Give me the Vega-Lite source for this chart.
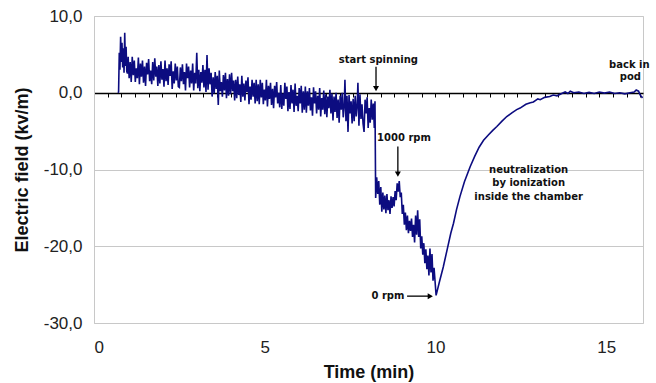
{
  "$schema": "https://vega.github.io/schema/vega-lite/v6.json",
  "width": 549,
  "height": 307,
  "autosize": "none",
  "padding": {"left": 94, "top": 16, "right": 13, "bottom": 60},
  "background": "white",
  "config": {"view": {"stroke": "#c8c8c8", "strokeWidth": 1}},
  "datasets": {
    "field": [
      {"t":0.70,"v":0},{"t":0.72,"v":0.1},{"t":0.74,"v":5.2},{"t":0.76,"v":3.0},{"t":0.78,"v":7.3},{"t":0.80,"v":4.0},{"t":0.82,"v":6.5},{"t":0.84,"v":3.3},{"t":0.86,"v":5.8},{"t":0.88,"v":2.6},{"t":0.90,"v":7.8},{"t":0.92,"v":3.5},{"t":0.94,"v":6.0},{"t":0.96,"v":2.8},{"t":0.98,"v":2.5},
      {"t":1.00,"v":4.7},{"t":1.03,"v":1.9},{"t":1.06,"v":4.0},{"t":1.09,"v":1.4},{"t":1.12,"v":4.7},{"t":1.15,"v":2.3},{"t":1.18,"v":4.2},{"t":1.21,"v":1.4},{"t":1.24,"v":3.2},{"t":1.27,"v":1.9},
      {"t":1.30,"v":4.6},{"t":1.33,"v":1.1},{"t":1.36,"v":3.8},{"t":1.39,"v":2.1},{"t":1.42,"v":4.2},{"t":1.45,"v":1.3},{"t":1.48,"v":3.4},{"t":1.51,"v":0.9},{"t":1.54,"v":3.9},{"t":1.57,"v":2.4},
      {"t":1.60,"v":4.4},{"t":1.63,"v":1.5},{"t":1.66,"v":2.9},{"t":1.69,"v":1.1},{"t":1.72,"v":4.0},{"t":1.75,"v":1.6},{"t":1.78,"v":4.5},{"t":1.81,"v":2.1},{"t":1.84,"v":3.4},{"t":1.87,"v":0.9},
      {"t":1.90,"v":3.6},{"t":1.93,"v":1.2},{"t":1.96,"v":4.1},{"t":1.99,"v":1.7},{"t":2.02,"v":3.1},{"t":2.05,"v":0.8},{"t":2.08,"v":4.2},{"t":2.11,"v":1.5},{"t":2.14,"v":3.2},{"t":2.17,"v":1.0},
      {"t":2.20,"v":3.7},{"t":2.23,"v":2.2},{"t":2.26,"v":4.1},{"t":2.29,"v":0.5},{"t":2.32,"v":2.8},{"t":2.35,"v":1.2},{"t":2.38,"v":3.8},{"t":2.41,"v":1.6},{"t":2.44,"v":3.4},{"t":2.47,"v":0.8},
      {"t":2.50,"v":0.7},{"t":2.53,"v":3.3},{"t":2.56,"v":1.5},{"t":2.59,"v":3.7},{"t":2.62,"v":1.1},{"t":2.65,"v":2.7},{"t":2.68,"v":0.3},{"t":2.71,"v":3.8},{"t":2.74,"v":1.9},{"t":2.77,"v":3.4},
      {"t":2.80,"v":0.7},{"t":2.83,"v":2.9},{"t":2.86,"v":1.2},{"t":2.89,"v":3.8},{"t":2.92,"v":0.3},{"t":2.95,"v":2.6},{"t":2.98,"v":1.2},{"t":3.01,"v":5.2},{"t":3.04,"v":0.6},{"t":3.07,"v":3.0},
      {"t":3.10,"v":0.2},{"t":3.13,"v":2.7},{"t":3.16,"v":1.3},{"t":3.19,"v":3.6},{"t":3.22,"v":0.7},{"t":3.25,"v":3.0},{"t":3.28,"v":0.1},{"t":3.31,"v":4.9},{"t":3.34,"v":0.4},{"t":3.37,"v":3.2},
      {"t":3.40,"v":1.1},{"t":3.43,"v":2.6},{"t":3.46,"v":-0.5},{"t":3.49,"v":2.0},{"t":3.52,"v":-0.1},{"t":3.55,"v":2.7},{"t":3.58,"v":0.5},{"t":3.61,"v":2.2},{"t":3.64,"v":-1.6},{"t":3.67,"v":2.9},
      {"t":3.70,"v":0.2},{"t":3.73,"v":1.4},{"t":3.76,"v":-0.5},{"t":3.79,"v":2.3},{"t":3.82,"v":0.3},{"t":3.85,"v":2.6},{"t":3.88,"v":-0.7},{"t":3.91,"v":1.8},{"t":3.94,"v":-0.4},{"t":3.97,"v":2.4},
      {"t":4.00,"v":-0.2},{"t":4.03,"v":2.6},{"t":4.06,"v":0.2},{"t":4.09,"v":1.6},{"t":4.12,"v":-1.0},{"t":4.15,"v":1.7},{"t":4.18,"v":-0.7},{"t":4.21,"v":2.1},{"t":4.24,"v":-0.3},{"t":4.27,"v":1.1},
      {"t":4.30,"v":-1.2},{"t":4.33,"v":2.2},{"t":4.36,"v":-0.5},{"t":4.39,"v":1.2},{"t":4.42,"v":-1.0},{"t":4.45,"v":1.6},{"t":4.48,"v":0.1},{"t":4.51,"v":2.0},{"t":4.54,"v":-1.5},{"t":4.57,"v":0.8},
      {"t":4.60,"v":-0.9},{"t":4.63,"v":1.7},{"t":4.66,"v":-0.5},{"t":4.69,"v":1.3},{"t":4.72,"v":-1.4},{"t":4.75,"v":1.7},{"t":4.78,"v":-1.1},{"t":4.81,"v":1.1},{"t":4.84,"v":-1.5},{"t":4.87,"v":1.7},
      {"t":4.90,"v":-0.6},{"t":4.93,"v":1.3},{"t":4.96,"v":-1.5},{"t":4.99,"v":0.4},{"t":5.02,"v":-1.0},{"t":5.05,"v":1.7},{"t":5.08,"v":-1.8},{"t":5.11,"v":0.9},{"t":5.14,"v":-0.8},{"t":5.17,"v":1.3},
      {"t":5.20,"v":-1.6},{"t":5.23,"v":0.5},{"t":5.26,"v":-2.0},{"t":5.29,"v":0.9},{"t":5.32,"v":-0.6},{"t":5.35,"v":1.4},{"t":5.38,"v":-1.4},{"t":5.41,"v":0.0},{"t":5.44,"v":-1.9},{"t":5.47,"v":1.0},
      {"t":5.50,"v":-2.1},{"t":5.53,"v":-0.1},{"t":5.56,"v":-1.7},{"t":5.59,"v":1.3},{"t":5.62,"v":-0.8},{"t":5.65,"v":0.8},{"t":5.68,"v":-2.4},{"t":5.71,"v":0.1},{"t":5.74,"v":-2.1},{"t":5.77,"v":1.0},
      {"t":5.80,"v":-1.4},{"t":5.83,"v":0.4},{"t":5.86,"v":-2.5},{"t":5.89,"v":1.2},{"t":5.92,"v":-1.7},{"t":5.95,"v":-0.4},{"t":5.98,"v":-2.4},{"t":6.01,"v":0.6},{"t":6.04,"v":-1.4},{"t":6.07,"v":0.9},
      {"t":6.10,"v":-2.6},{"t":6.13,"v":0.2},{"t":6.16,"v":-2.2},{"t":6.19,"v":0.8},{"t":6.22,"v":-2.6},{"t":6.25,"v":0.2},{"t":6.28,"v":-1.7},{"t":6.31,"v":0.6},{"t":6.34,"v":-2.3},{"t":6.37,"v":-0.6},
      {"t":6.40,"v":-3.0},{"t":6.43,"v":0.7},{"t":6.46,"v":-1.4},{"t":6.49,"v":0.2},{"t":6.52,"v":-2.7},{"t":6.55,"v":-0.4},{"t":6.58,"v":-2.2},{"t":6.61,"v":0.6},{"t":6.64,"v":-3.1},{"t":6.67,"v":-0.7},
      {"t":6.70,"v":-2.2},{"t":6.73,"v":0.3},{"t":6.76,"v":-2.8},{"t":6.79,"v":-0.2},{"t":6.82,"v":-3.2},{"t":6.85,"v":-0.5},{"t":6.88,"v":-2.0},{"t":6.91,"v":0.4},{"t":6.94,"v":-2.7},{"t":6.97,"v":-0.1},
      {"t":7.00,"v":-3.6},{"t":7.03,"v":-0.5},{"t":7.06,"v":-2.5},{"t":7.09,"v":0.0},{"t":7.12,"v":-3.3},{"t":7.15,"v":-0.9},{"t":7.18,"v":-3.9},{"t":7.21,"v":-0.4},{"t":7.24,"v":-2.2},{"t":7.27,"v":0.0},
      {"t":7.30,"v":-3.2},{"t":7.33,"v":-1.6},{"t":7.35,"v":1.7},{"t":7.38,"v":-3.7},{"t":7.41,"v":-0.4},{"t":7.44,"v":-5.1},{"t":7.47,"v":-0.3},{"t":7.50,"v":-2.7},{"t":7.53,"v":-1.1},{"t":7.56,"v":-4.0},
      {"t":7.59,"v":-0.8},{"t":7.62,"v":-3.7},{"t":7.65,"v":-0.4},{"t":7.68,"v":-3.1},{"t":7.71,"v":-1.5},{"t":7.73,"v":1.3},{"t":7.76,"v":-4.3},{"t":7.79,"v":-0.2},{"t":7.82,"v":-3.4},{"t":7.85,"v":-1.5},
      {"t":7.88,"v":-4.0},{"t":7.91,"v":-5.1},{"t":7.94,"v":-0.9},{"t":7.97,"v":-2.7},{"t":8.00,"v":-0.6},{"t":8.03,"v":-4.6},{"t":8.06,"v":-2.0},{"t":8.09,"v":-3.9},{"t":8.12,"v":-0.9},{"t":8.15,"v":-3.5},
      {"t":8.18,"v":-1.4},{"t":8.21,"v":-4.6},{"t":8.23,"v":-1.1},
      {"t":8.25,"v":-13.7},{"t":8.28,"v":-11.0},{"t":8.31,"v":-13.2},{"t":8.34,"v":-11.5},{"t":8.37,"v":-14.6},{"t":8.40,"v":-12.3},{"t":8.43,"v":-15.5},{"t":8.46,"v":-13.0},{"t":8.49,"v":-15.2},{"t":8.52,"v":-13.4},{"t":8.55,"v":-15.7},{"t":8.58,"v":-13.2},{"t":8.61,"v":-15.3},{"t":8.64,"v":-14.0},{"t":8.67,"v":-15.8},{"t":8.70,"v":-13.5},{"t":8.73,"v":-15.0},{"t":8.76,"v":-13.6},{"t":8.79,"v":-14.8},{"t":8.82,"v":-12.8},{"t":8.85,"v":-14.0},{"t":8.88,"v":-11.8},{"t":8.91,"v":-12.9},{"t":8.94,"v":-11.5},{"t":8.97,"v":-13.6},
      {"t":9.00,"v":-13.0},{"t":9.03,"v":-15.8},{"t":9.06,"v":-14.6},{"t":9.09,"v":-17.2},{"t":9.12,"v":-15.6},{"t":9.15,"v":-17.9},{"t":9.18,"v":-16.0},{"t":9.21,"v":-18.3},{"t":9.24,"v":-16.7},{"t":9.27,"v":-18.0},{"t":9.30,"v":-16.4},{"t":9.33,"v":-18.8},{"t":9.36,"v":-17.2},{"t":9.39,"v":-19.5},{"t":9.42,"v":-16.0},{"t":9.45,"v":-18.5},{"t":9.48,"v":-15.3},{"t":9.51,"v":-18.8},{"t":9.54,"v":-16.5},{"t":9.57,"v":-20.3},{"t":9.60,"v":-18.7},{"t":9.63,"v":-21.1},{"t":9.66,"v":-19.6},{"t":9.69,"v":-22.2},{"t":9.72,"v":-20.4},{"t":9.75,"v":-23.0},{"t":9.78,"v":-21.2},{"t":9.81,"v":-23.8},{"t":9.84,"v":-20.3},{"t":9.87,"v":-23.4},{"t":9.90,"v":-21.0},{"t":9.93,"v":-24.5},{"t":9.96,"v":-22.8},
      {"t":10.02,"v":-26.4},{"t":10.12,"v":-24.6},{"t":10.23,"v":-22.7},{"t":10.35,"v":-20.3},{"t":10.45,"v":-18.3},{"t":10.53,"v":-17.0},{"t":10.62,"v":-15.2},{"t":10.72,"v":-13.5},{"t":10.85,"v":-11.6},{"t":11.02,"v":-9.6},{"t":11.15,"v":-8.3},{"t":11.28,"v":-7.1},{"t":11.41,"v":-6.2},{"t":11.55,"v":-5.5},{"t":11.68,"v":-4.9},{"t":11.80,"v":-4.4},{"t":11.95,"v":-3.7},{"t":12.09,"v":-3.1},{"t":12.25,"v":-2.6},{"t":12.38,"v":-2.2},{"t":12.48,"v":-2.0},{"t":12.65,"v":-1.5},{"t":12.78,"v":-1.3},{"t":12.87,"v":-1.2},{"t":13.00,"v":-0.8},{"t":13.07,"v":-0.9},{"t":13.20,"v":-0.6},{"t":13.35,"v":-0.5},{"t":13.45,"v":-0.3},{"t":13.56,"v":-0.4},{"t":13.70,"v":-0.1},{"t":13.80,"v":0.1},{"t":13.88,"v":-0.1},{"t":13.95,"v":0.2},{"t":14.05,"v":0.0},{"t":14.20,"v":0.1},{"t":14.35,"v":-0.1},{"t":14.50,"v":0.05},{"t":14.65,"v":-0.1},{"t":14.80,"v":0.1},{"t":14.95,"v":-0.05},{"t":15.10,"v":0.1},{"t":15.25,"v":-0.1},{"t":15.40,"v":0.0},{"t":15.55,"v":-0.15},{"t":15.70,"v":0.0},{"t":15.82,"v":0.1},{"t":15.88,"v":0.35},{"t":15.95,"v":0.2},{"t":16.00,"v":-0.3},{"t":16.05,"v":-0.6},{"t":16.07,"v":-0.5}
    ],
    "labels": [
      {"t":8.33,"v":4.27,"label":"start spinning"},
      {"t":9.08,"v":-5.9,"label":"1000 rpm"},
      {"t":8.61,"v":-26.5,"label":"0 rpm"},
      {"t":12.73,"v":-10.1,"label":"neutralization"},
      {"t":12.73,"v":-11.8,"label":"by ionization"},
      {"t":12.73,"v":-13.6,"label":"inside the chamber"},
      {"t":15.68,"v":3.6,"label":"back in"},
      {"t":15.71,"v":2.0,"label":"pod"}
    ],
    "arrows": [
      {"t":8.26,"v":3.4,"t2":8.26,"v2":0.8},
      {"t":8.9,"v":-7.0,"t2":8.9,"v2":-10.4},
      {"t":9.17,"v":-26.5,"t2":9.8,"v2":-26.5}
    ],
    "heads": [
      {"t":8.26,"v":0.55,"dir":"down"},
      {"t":8.9,"v":-10.6,"dir":"down"},
      {"t":9.85,"v":-26.5,"dir":"right"}
    ]
  },
  "resolve": {"axis": {"x": "independent"}},
  "layer": [
    {
      "data": {"name": "field"},
      "mark": {"type": "line", "color": "#0c0c80", "strokeWidth": 1.6, "clip": true},
      "encoding": {
        "x": {"field": "t", "type": "quantitative", "scale": {"domain": [0, 16.08], "nice": false, "zero": false},
          "axis": {"values": [0, 5, 10, 15], "title": "Time (min)", "grid": false, "domain": false, "ticks": false,
            "labelFont": "Liberation Sans", "labelFontSize": 17, "labelColor": "#222222", "labelPadding": 16,
            "titleFont": "Liberation Sans", "titleFontSize": 18, "titleFontWeight": "bold", "titleColor": "#111111", "titlePadding": 8}},
        "y": {"field": "v", "type": "quantitative", "scale": {"domain": [-30, 10], "nice": false},
          "axis": {"values": [-30, -25, -20, -15, -10, -5, 0, 5, 10],
            "labelExpr": "datum.value % 10 == 0 ? datum.value + ',0' : ''",
            "grid": true, "gridColor": "#c8c8c8", "gridWidth": 1,
            "domain": true, "domainColor": "#c8c8c8", "ticks": false,
            "labelFont": "Liberation Sans", "labelFontSize": 17, "labelColor": "#222222", "labelPadding": 12,
            "title": "Electric field (kv/m)", "titleFont": "Liberation Sans", "titleFontSize": 18, "titleFontWeight": "bold", "titleColor": "#111111", "titlePadding": 12}}
      }
    },
    {
      "data": {"name": "arrows"},
      "mark": {"type": "rule", "color": "black", "strokeWidth": 1.3},
      "encoding": {
        "x": {"field": "t", "type": "quantitative",
          "axis": {"orient": "bottom", "offset": -230, "title": null, "labels": false, "grid": false,
            "domain": true, "domainColor": "black", "domainWidth": 1.5,
            "ticks": true, "tickColor": "black", "tickSize": 4, "tickWidth": 1,
            "values": [0,0.4,0.8,1.2,1.6,2,2.4,2.8,3.2,3.6,4,4.4,4.8,5.2,5.6,6,6.4,6.8,7.2,7.6,8,8.4,8.8,9.2,9.6,10,10.4,10.8,11.2,11.6,12,12.4,12.8,13.2,13.6,14,14.4,14.8,15.2,15.6,16]}},
        "y": {"field": "v", "type": "quantitative"},
        "x2": {"field": "t2"},
        "y2": {"field": "v2"}
      }
    },
    {
      "data": {"name": "heads"},
      "transform": [{"filter": "datum.dir == 'down'"}],
      "mark": {"type": "point", "shape": "triangle-down", "filled": true, "color": "black", "size": 36, "opacity": 1},
      "encoding": {
        "x": {"field": "t", "type": "quantitative", "axis": null},
        "y": {"field": "v", "type": "quantitative"}
      }
    },
    {
      "data": {"name": "heads"},
      "transform": [{"filter": "datum.dir == 'right'"}],
      "mark": {"type": "point", "shape": "triangle-right", "filled": true, "color": "black", "size": 36, "opacity": 1},
      "encoding": {
        "x": {"field": "t", "type": "quantitative", "axis": null},
        "y": {"field": "v", "type": "quantitative"}
      }
    },
    {
      "data": {"name": "labels"},
      "mark": {"type": "text", "font": "DejaVu Sans", "fontSize": 10, "fontWeight": "bold", "color": "#111111", "align": "center", "baseline": "middle"},
      "encoding": {
        "x": {"field": "t", "type": "quantitative", "axis": null},
        "y": {"field": "v", "type": "quantitative"},
        "text": {"field": "label"}
      }
    }
  ]
}
